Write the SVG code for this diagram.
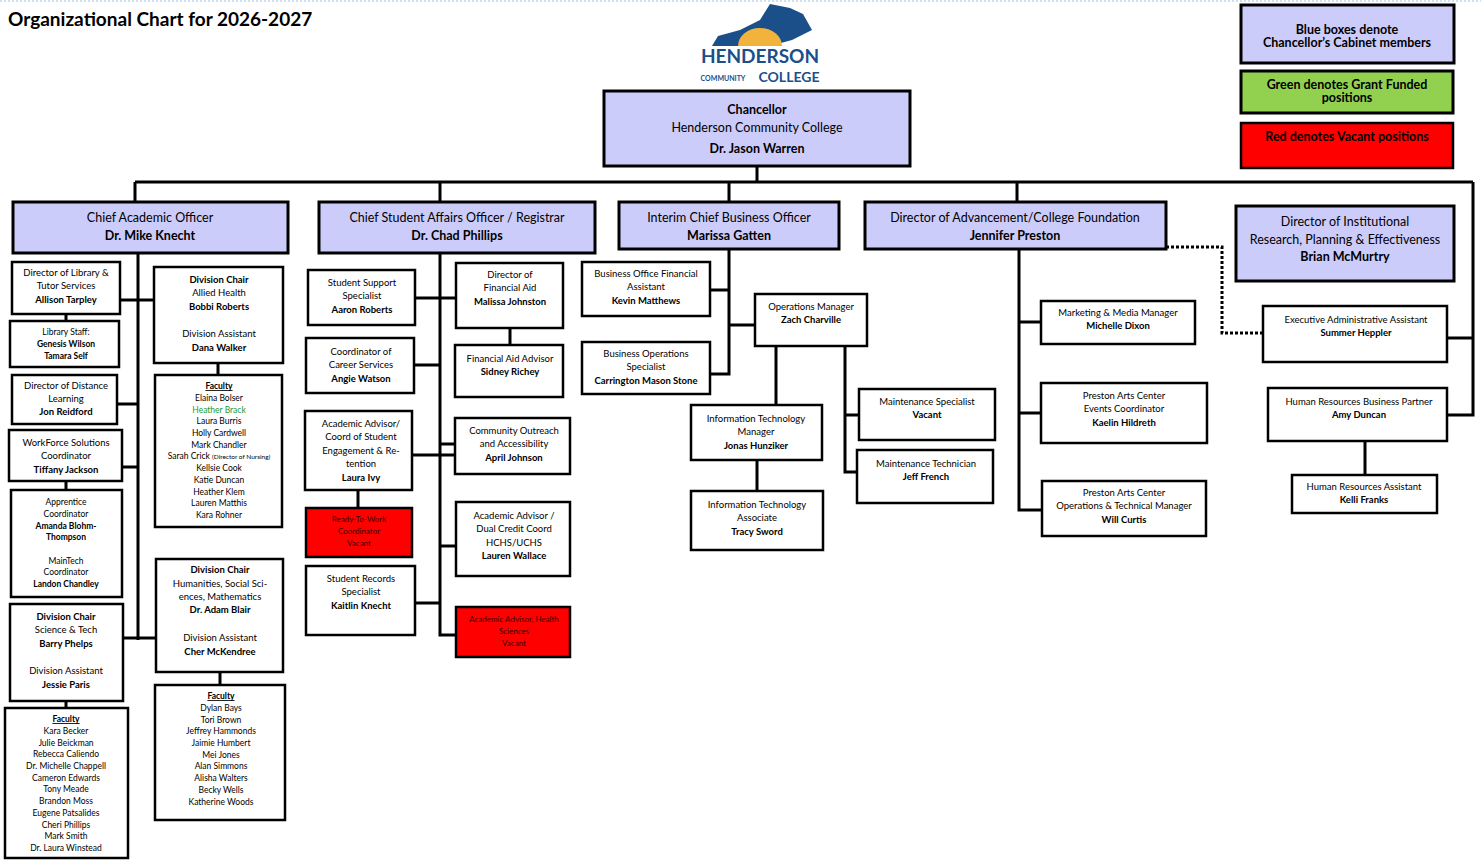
<svg xmlns="http://www.w3.org/2000/svg" width="1481" height="865" viewBox="0 0 1481 865">
<style>
text{font-family:Lato,"Open Sans","Liberation Sans",sans-serif;fill:#000;text-anchor:middle;font-size:9.5px}
.b{font-weight:bold}
.h{font-size:12.5px}
.box{fill:#fff;stroke:#000;stroke-width:2.5}
.blue{fill:#ccccfa;stroke:#000;stroke-width:3}
.red{fill:#f00;stroke:#000;stroke-width:2.5}
.green{fill:#92d050;stroke:#000;stroke-width:3}
.ln{stroke:#000;stroke-width:3;fill:none}
.u{text-decoration:underline;font-weight:bold}
.rt{font-size:8px;fill:#3a0000}
</style>
<rect width="1481" height="865" fill="#fff"/>
<line x1="0" y1="1" x2="1481" y2="1" stroke="#9cc3e6" stroke-dasharray="2 2"/>
<text x="8" y="26" class="b" style="font-size:19px;text-anchor:start">Organizational Chart for 2026-2027</text>
<g id="logo">
<path d="M712 46 L718 36 L740 30 L760 20 L770 4 L790 8 L803 14 L812 30 L792 40 L770 46 Z" fill="#1b4f8a"/>
<path d="M738 46 A22 18 0 0 1 782 46 Z" fill="#f2b33d"/>
<text x="760" y="63" class="b" style="font-size:19px;fill:#1b4f8a">HENDERSON</text>
<text x="723" y="81" class="b" style="font-size:7px;fill:#1b4f8a">COMMUNITY</text>
<text x="789" y="82" class="b" style="font-size:14px;fill:#1b4f8a">COLLEGE</text>
</g>
<g id="connectors">
<path class="ln" d="M757 166V182M135 182H1473M135 182V202M440 182V202M729 182V202M1017 182V202M1473 182V415H1447M1473 338H1447"/>
<path class="ln" d="M138 253V640M120 300H154M117 404H138M122 467H138M123 638H156M66 314V321M66 481V490M66 701V708M218 363V375M220 672V685"/>
<path class="ln" d="M440 253V635H456M415 298H456M414 365H440M412 455H456M415 603H440M440 546H456M440 444H455M358 490V508M510 328V345"/>
<path class="ln" d="M729 249V374H710M710 290H729M729 325H755M776 346V405M757 460V491M845 346V472H857M845 415H859"/>
<path class="ln" d="M1019 249V510H1042M1019 322H1041M1019 413H1041M1365 441V475"/>
<path d="M1166 247H1222V333H1263" stroke="#000" stroke-width="3" stroke-dasharray="3 2" fill="none"/>
</g>
<g id="legend">
<rect class="blue" x="1241" y="5" width="213" height="58"/><text x="1347" y="34" class="b h">Blue boxes denote</text><text x="1347" y="47" class="b h">Chancellor’s Cabinet members</text>
<rect class="green" x="1241" y="71" width="212" height="42"/><text x="1347" y="89" class="b h">Green denotes Grant Funded</text><text x="1347" y="102" class="b h">positions</text>
<rect class="red" x="1241" y="123" width="212" height="45"/><text x="1347" y="141" class="b h">Red denotes Vacant positions</text>
</g>
<g id="chancellor"><rect class="blue" x="604" y="91" width="306" height="75"/><text x="757" y="114" class="b h">Chancellor</text><text x="757" y="132" class="h">Henderson Community College</text><text x="757" y="153" class="b h">Dr. Jason Warren</text></g>
<g id="cao"><rect class="blue" x="13" y="202" width="275" height="51"/><text x="150" y="222" class="h">Chief Academic Officer</text><text x="150" y="240" class="b h">Dr. Mike Knecht</text></g>
<g id="csao"><rect class="blue" x="319" y="202" width="276" height="51"/><text x="457" y="222" class="h">Chief Student Affairs Officer / Registrar</text><text x="457" y="240" class="b h">Dr. Chad Phillips</text></g>
<g id="cbo"><rect class="blue" x="619" y="202" width="220" height="47"/><text x="729" y="222" class="h">Interim Chief Business Officer</text><text x="729" y="240" class="b h">Marissa Gatten</text></g>
<g id="adv"><rect class="blue" x="865" y="202" width="301" height="47"/><text x="1015" y="222" class="h">Director of Advancement/College Foundation</text><text x="1015" y="240" class="b h">Jennifer Preston</text></g>
<g id="ir"><rect class="blue" x="1236" y="206" width="218" height="75"/><text x="1345" y="226" class="h">Director of Institutional</text><text x="1345" y="244" class="h">Research, Planning &amp; Effectiveness</text><text x="1345" y="261" class="b h">Brian McMurtry</text></g>

<g id="lib"><rect class="box" x="12" y="262" width="108" height="52"/><text x="66" y="276">Director of Library &amp;</text><text x="66" y="289">Tutor Services</text><text x="66" y="303" class="b">Allison Tarpley</text></g>
<g id="libstaff"><rect class="box" x="10" y="321" width="109" height="46"/><text x="66" y="335" style="font-size:8.5px">Library Staff:</text><text x="66" y="347" class="b" style="font-size:8.5px">Genesis Wilson</text><text x="66" y="359" class="b" style="font-size:8.5px">Tamara Self</text></g>
<g id="dist"><rect class="box" x="12" y="375" width="105" height="49"/><text x="66" y="389">Director of Distance</text><text x="66" y="402">Learning</text><text x="66" y="415" class="b">Jon Reidford</text></g>
<g id="wf"><rect class="box" x="9" y="430" width="113" height="51"/><text x="66" y="446">WorkForce Solutions</text><text x="66" y="459">Coordinator</text><text x="66" y="473" class="b">Tiffany Jackson</text></g>
<g id="appr"><rect class="box" x="11" y="490" width="111" height="107"/><text x="66" y="505" style="font-size:8.5px">Apprentice</text><text x="66" y="517" style="font-size:8.5px">Coordinator</text><text x="66" y="529" class="b" style="font-size:8.5px">Amanda Blohm-</text><text x="66" y="540" class="b" style="font-size:8.5px">Thompson</text><text x="66" y="564" style="font-size:8.5px">MainTech</text><text x="66" y="575" style="font-size:8.5px">Coordinator</text><text x="66" y="587" class="b" style="font-size:8.5px">Landon Chandley</text></g>
<g id="sci"><rect class="box" x="10" y="604" width="113" height="97"/><text x="66" y="620" class="b">Division Chair</text><text x="66" y="633">Science &amp; Tech</text><text x="66" y="647" class="b">Barry Phelps</text><text x="66" y="674">Division Assistant</text><text x="66" y="688" class="b">Jessie Paris</text></g>
<g id="scifac"><rect class="box" x="5" y="708" width="123" height="150"/><text x="66" y="722" class="u" style="font-size:8.5px">Faculty</text>
<text x="66" y="734" style="font-size:8.5px">Kara Becker</text><text x="66" y="746" style="font-size:8.5px">Julie Beickman</text><text x="66" y="757" style="font-size:8.5px">Rebecca Caliendo</text><text x="66" y="769" style="font-size:8.5px">Dr. Michelle Chappell</text><text x="66" y="781" style="font-size:8.5px">Cameron Edwards</text><text x="66" y="792" style="font-size:8.5px">Tony Meade</text><text x="66" y="804" style="font-size:8.5px">Brandon Moss</text><text x="66" y="816" style="font-size:8.5px">Eugene Patsalides</text><text x="66" y="828" style="font-size:8.5px">Cheri Phillips</text><text x="66" y="839" style="font-size:8.5px">Mark Smith</text><text x="66" y="851" style="font-size:8.5px">Dr. Laura Winstead</text></g>
<g id="allied"><rect class="box" x="154" y="267" width="129" height="96"/><text x="219" y="283" class="b">Division Chair</text><text x="219" y="296">Allied Health</text><text x="219" y="310" class="b">Bobbi Roberts</text><text x="219" y="337">Division Assistant</text><text x="219" y="351" class="b">Dana Walker</text></g>
<g id="allfac"><rect class="box" x="155" y="375" width="127" height="152"/><text x="219" y="389" class="u" style="font-size:8.5px">Faculty</text>
<text x="219" y="401" style="font-size:8.5px">Elaina Bolser</text><text x="219" y="413" style="font-size:8.5px;fill:#1a9a3a">Heather Brack</text><text x="219" y="424" style="font-size:8.5px">Laura Burris</text><text x="219" y="436" style="font-size:8.5px">Holly Cardwell</text><text x="219" y="448" style="font-size:8.5px">Mark Chandler</text><text x="219" y="459" style="font-size:8.5px">Sarah Crick <tspan style="font-size:6.5px">(Director of Nursing)</tspan></text><text x="219" y="471" style="font-size:8.5px">Kellsie Cook</text><text x="219" y="483" style="font-size:8.5px">Katie Duncan</text><text x="219" y="495" style="font-size:8.5px">Heather Klem</text><text x="219" y="506" style="font-size:8.5px">Lauren Matthis</text><text x="219" y="518" style="font-size:8.5px">Kara Rohner</text></g>
<g id="hum"><rect class="box" x="156" y="559" width="127" height="113"/><text x="220" y="573" class="b">Division Chair</text><text x="220" y="587">Humanities, Social Sci-</text><text x="220" y="600">ences, Mathematics</text><text x="220" y="613" class="b">Dr. Adam Blair</text><text x="220" y="641">Division Assistant</text><text x="220" y="655" class="b">Cher McKendree</text></g>
<g id="humfac"><rect class="box" x="155" y="685" width="130" height="135"/><text x="221" y="699" class="u" style="font-size:8.5px">Faculty</text>
<text x="221" y="711" style="font-size:8.5px">Dylan Bays</text><text x="221" y="723" style="font-size:8.5px">Tori Brown</text><text x="221" y="734" style="font-size:8.5px">Jeffrey Hammonds</text><text x="221" y="746" style="font-size:8.5px">Jaimie Humbert</text><text x="221" y="758" style="font-size:8.5px">Mei Jones</text><text x="221" y="769" style="font-size:8.5px">Alan Simmons</text><text x="221" y="781" style="font-size:8.5px">Alisha Walters</text><text x="221" y="793" style="font-size:8.5px">Becky Wells</text><text x="221" y="805" style="font-size:8.5px">Katherine Woods</text></g>

<g id="sss"><rect class="box" x="308" y="270" width="107" height="55"/><text x="362" y="286">Student Support</text><text x="362" y="299">Specialist</text><text x="362" y="313" class="b">Aaron Roberts</text></g>
<g id="career"><rect class="box" x="306" y="338" width="108" height="55"/><text x="361" y="355">Coordinator of</text><text x="361" y="368">Career Services</text><text x="361" y="382" class="b">Angie Watson</text></g>
<g id="aa"><rect class="box" x="305" y="411" width="107" height="79"/><text x="361" y="427">Academic Advisor/</text><text x="361" y="440">Coord of Student</text><text x="361" y="454">Engagement &amp; Re-</text><text x="361" y="467">tention</text><text x="361" y="481" class="b">Laura Ivy</text></g>
<g id="rtw"><rect class="red" x="306" y="508" width="106" height="49"/><text x="359" y="522" class="rt">Ready-To-Work</text><text x="359" y="534" class="rt">Coordinator</text><text x="359" y="546" class="rt">Vacant</text></g>
<g id="recs"><rect class="box" x="306" y="566" width="109" height="69"/><text x="361" y="582">Student Records</text><text x="361" y="595">Specialist</text><text x="361" y="609" class="b">Kaitlin Knecht</text></g>
<g id="dfa"><rect class="box" x="456" y="263" width="107" height="65"/><text x="510" y="278">Director of</text><text x="510" y="291">Financial Aid</text><text x="510" y="305" class="b">Malissa Johnston</text></g>
<g id="faa"><rect class="box" x="455" y="345" width="108" height="52"/><text x="510" y="362">Financial Aid Advisor</text><text x="510" y="375" class="b">Sidney Richey</text></g>
<g id="comm"><rect class="box" x="455" y="418" width="115" height="56"/><text x="514" y="434">Community Outreach</text><text x="514" y="447">and Accessibility</text><text x="514" y="461" class="b">April Johnson</text></g>
<g id="dual"><rect class="box" x="456" y="502" width="114" height="74"/><text x="514" y="519">Academic Advisor /</text><text x="514" y="532">Dual Credit Coord</text><text x="514" y="546">HCHS/UCHS</text><text x="514" y="559" class="b">Lauren Wallace</text></g>
<g id="aahs"><rect class="red" x="456" y="607" width="114" height="50"/><text x="514" y="622" class="rt">Academic Advisor, Health</text><text x="514" y="634" class="rt">Sciences</text><text x="514" y="646" class="rt">Vacant</text></g>

<g id="bofa"><rect class="box" x="582" y="262" width="128" height="54"/><text x="646" y="277">Business Office Financial</text><text x="646" y="290">Assistant</text><text x="646" y="304" class="b">Kevin Matthews</text></g>
<g id="bops"><rect class="box" x="582" y="342" width="128" height="52"/><text x="646" y="357">Business Operations</text><text x="646" y="370">Specialist</text><text x="646" y="384" class="b">Carrington Mason Stone</text></g>
<g id="opsm"><rect class="box" x="755" y="294" width="112" height="52"/><text x="811" y="310">Operations Manager</text><text x="811" y="323" class="b">Zach Charville</text></g>
<g id="itm"><rect class="box" x="691" y="405" width="131" height="55"/><text x="756" y="422">Information Technology</text><text x="756" y="435">Manager</text><text x="756" y="449" class="b">Jonas Hunziker</text></g>
<g id="ita"><rect class="box" x="691" y="491" width="132" height="59"/><text x="757" y="508">Information Technology</text><text x="757" y="521">Associate</text><text x="757" y="535" class="b">Tracy Sword</text></g>
<g id="ms"><rect class="box" x="859" y="389" width="136" height="51"/><text x="927" y="405">Maintenance Specialist</text><text x="927" y="418" class="b">Vacant</text></g>
<g id="mt"><rect class="box" x="857" y="450" width="136" height="53"/><text x="926" y="467">Maintenance Technician</text><text x="926" y="480" class="b">Jeff French</text></g>

<g id="mkt"><rect class="box" x="1041" y="301" width="154" height="43"/><text x="1118" y="316">Marketing &amp; Media Manager</text><text x="1118" y="329" class="b">Michelle Dixon</text></g>
<g id="pae"><rect class="box" x="1041" y="383" width="166" height="60"/><text x="1124" y="399">Preston Arts Center</text><text x="1124" y="412">Events Coordinator</text><text x="1124" y="426" class="b">Kaelin Hildreth</text></g>
<g id="pao"><rect class="box" x="1042" y="481" width="164" height="55"/><text x="1124" y="496">Preston Arts Center</text><text x="1124" y="509">Operations &amp; Technical Manager</text><text x="1124" y="523" class="b">Will Curtis</text></g>

<g id="exec"><rect class="box" x="1263" y="306" width="184" height="56"/><text x="1356" y="323">Executive Administrative Assistant</text><text x="1356" y="336" class="b">Summer Heppler</text></g>
<g id="hrbp"><rect class="box" x="1268" y="388" width="179" height="53"/><text x="1359" y="405">Human Resources Business Partner</text><text x="1359" y="418" class="b">Amy Duncan</text></g>
<g id="hra"><rect class="box" x="1292" y="475" width="145" height="38"/><text x="1364" y="490">Human Resources Assistant</text><text x="1364" y="503" class="b">Kelli Franks</text></g>
</svg>
